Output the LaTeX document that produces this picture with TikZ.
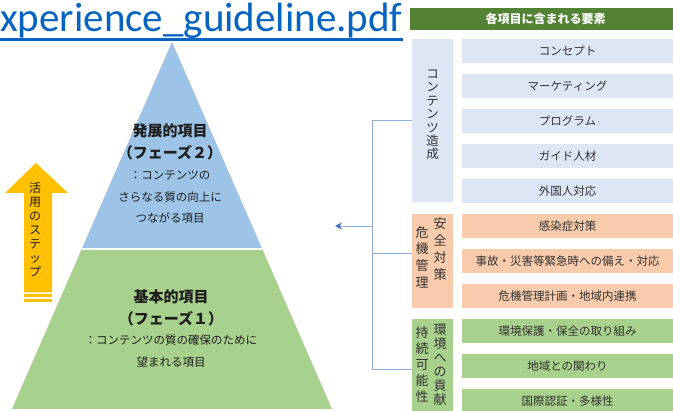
\documentclass[tikz,border=0pt]{standalone}
\usepackage{fontspec}
\setmainfont{Noto Sans CJK JP}
\newfontfamily\linkfont{Carlito}
\usetikzlibrary{arrows.meta}
\definecolor{pyblue}{RGB}{157,195,230}
\definecolor{pygreen}{RGB}{169,209,142}
\definecolor{hdrgreen}{RGB}{84,130,53}
\definecolor{lblue}{RGB}{221,230,244}
\definecolor{lorange}{RGB}{248,203,173}
\definecolor{lgreen}{RGB}{169,209,142}
\definecolor{yel}{RGB}{255,192,0}
\definecolor{linkblue}{RGB}{5,99,193}
\definecolor{connc}{RGB}{143,170,220}
\definecolor{arrc}{RGB}{68,114,196}
\definecolor{txt}{RGB}{30,30,30}
\definecolor{itxt}{RGB}{50,50,50}
\tikzset{
  ptitle/.style={inner sep=0, text=txt, font=\fontsize{15}{17}\selectfont\bfseries},
  pbody/.style={inner sep=0, text=txt, font=\fontsize{11.5}{13}\selectfont},
  itembox/.style={anchor=north west, inner sep=0, outer sep=0, minimum width=211pt, minimum height=24pt, text=itxt, font=\fontsize{11.5}{13}\selectfont},
  catbox/.style={anchor=north west, inner sep=0, outer sep=0, minimum width=41pt},
  vtext/.style={inner sep=0, align=center, text=itxt},
  conn/.style={draw=connc, line width=0.9pt},
}
\begin{document}
\begin{tikzpicture}[x=1pt,y=-1pt]
\clip (0,0) rectangle (673,411);
\fill[white] (0,0) rectangle (673,411);
% pyramid
\fill[pyblue] (172,42) -- (261.8,248) -- (82.2,248) -- cycle;
\fill[pygreen] (81.3,250) -- (262.7,250) -- (332,409) -- (12,409) -- cycle;
\node[ptitle] (b1) at (170,131) {発展的項目};
\node[ptitle] (b2) at (170,153) {（フェーズ２）};
\node[pbody] (b3) at (170,175) {：コンテンツの};
\node[pbody] (b4) at (170,197) {さらなる質の向上に};
\node[pbody] (b5) at (170,218) {つながる項目};
\node[ptitle] (g1) at (171,297) {基本的項目};
\node[ptitle] (g2) at (171,319) {（フェーズ１）};
\node[pbody] (g3) at (171,340) {：コンテンツの質の確保のために};
\node[pbody] (g4) at (171,362) {望まれる項目};
% yellow arrow
\fill[yel] (36,163) -- (68,193) -- (52,193) -- (52,292.5) -- (24,292.5) -- (24,193) -- (5,193) -- cycle;
\fill[yel] (24,294.5) rectangle (52,297.5);
\fill[yel] (24,299.5) rectangle (52,302.5);
\node[vtext, text=txt, font=\fontsize{12}{14}\selectfont] (step) at (35,230) {活\\用\\の\\ス\\テ\\ッ\\プ};
% link text
\node[anchor=base west, inner sep=0, font=\linkfont\fontsize{41}{41}\selectfont, text=linkblue] (link) at (0,32) {xperience\_guideline.pdf};
\draw[linkblue, line width=2.6pt] ([yshift=-7.5pt]link.base west) -- ([yshift=-7.5pt]link.base east);
% header
\node[anchor=north west, inner sep=0, minimum width=263pt, minimum height=22pt, fill=hdrgreen, text=white, font=\fontsize{12}{14}\selectfont\bfseries] (hdr) at (410,8) {\hspace*{8pt}各項目に含まれる要素};
% categories
\node[catbox, fill=lblue, minimum height=163pt] (cat1) at (412,39) {};
\node[catbox, fill=lorange, minimum height=94pt] (cat2) at (412,214) {};
\node[catbox, fill=lgreen, minimum height=100pt] (cat3) at (412,319) {};
\node[vtext, font=\fontsize{12.5}{13.4}\selectfont] (c1t) at (432.5,115) {コ\\ン\\テ\\ン\\ツ\\造\\成};
\node[vtext, font=\fontsize{13}{17.2}\selectfont] (c2a) at (440,249) {安\\全\\対\\策};
\node[vtext, font=\fontsize{13}{16.7}\selectfont] (c2b) at (422,257) {危\\機\\管\\理};
\node[vtext, font=\fontsize{13}{14}\selectfont] (c3a) at (440,365) {環\\境\\へ\\の\\貢\\献};
\node[vtext, font=\fontsize{13}{16}\selectfont] (c3b) at (422,365) {持\\続\\可\\能\\性};
% items
\node[itembox, fill=lblue] (i1) at (462,39) {コンセプト};
\node[itembox, fill=lblue] (i2) at (462,74) {マーケティング};
\node[itembox, fill=lblue] (i3) at (462,109) {プログラム};
\node[itembox, fill=lblue] (i4) at (462,144) {ガイド人材};
\node[itembox, fill=lblue] (i5) at (462,179) {外国人対応};
\node[itembox, fill=lorange] (i6) at (462,214) {感染症対策};
\node[itembox, fill=lorange] (i7) at (462,249) {事故・災害等緊急時への備え・対応};
\node[itembox, fill=lorange] (i8) at (462,284) {危機管理計画・地域内連携};
\node[itembox, fill=lgreen] (i9) at (462,319) {環境保護・保全の取り組み};
\node[itembox, fill=lgreen] (i10) at (462,354) {地域との関わり};
\node[itembox, fill=lgreen] (i11) at (462,389) {国際認証・多様性};
% connectors
\coordinate (jx) at (372,226);
\coordinate (tip) at (335,226);
\draw[conn] (cat1.west) -- (cat1.west -| jx) -- (cat3.west -| jx) -- (cat3.west);
\draw[conn] ([yshift=8pt]cat2.west) -- ([yshift=8pt]cat2.west -| jx);
\draw[conn, -{Stealth[length=7pt, width=7pt, color=arrc]}] (jx) -- (tip);
\end{tikzpicture}
\end{document}
